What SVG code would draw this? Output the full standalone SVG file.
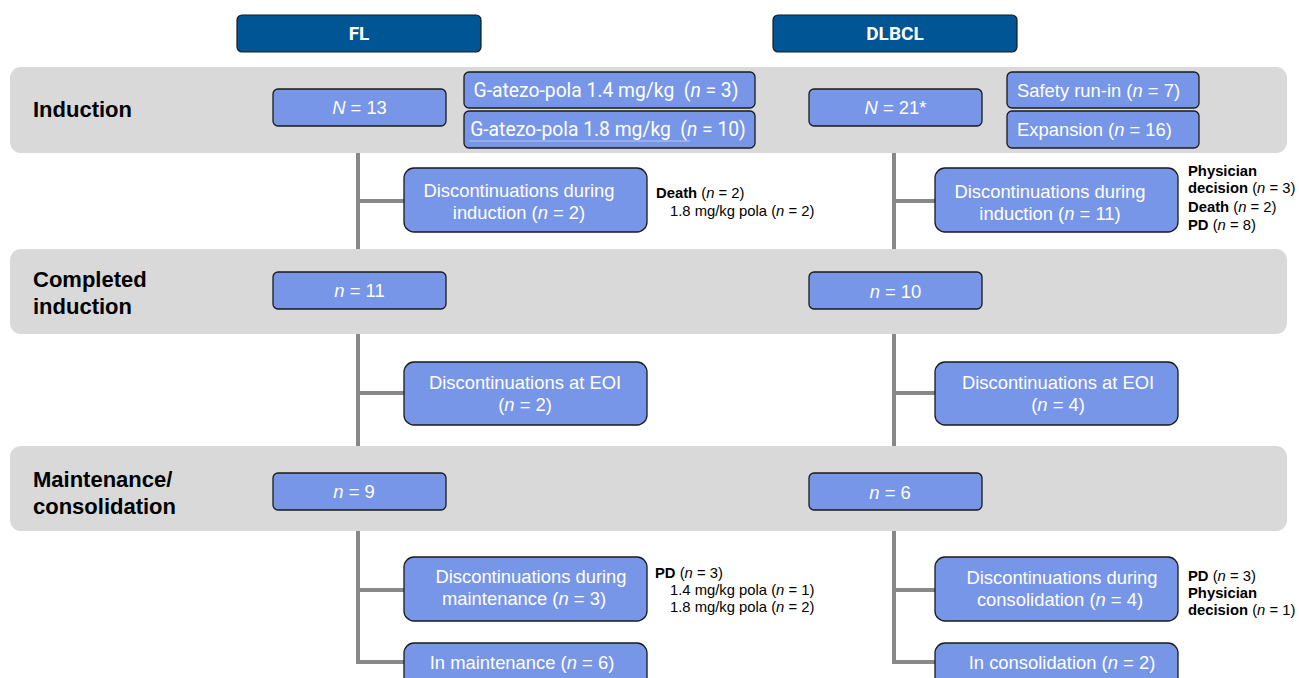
<svg xmlns="http://www.w3.org/2000/svg" width="1299" height="678" viewBox="0 0 1299 678">
<style>
.band{fill:#d9d9d9}
.hdr{fill:#005594;stroke:#1a1a1a;stroke-width:1.2}
.hdrt{font-family:Roboto,"Liberation Sans",Arial,sans-serif;font-weight:bold;font-size:19px;fill:#fff;text-anchor:middle}
.node{fill:#7896e8;stroke:#1a1a1a;stroke-width:1.3}
.nt{font-family:"Liberation Sans",Arial,sans-serif;font-size:18.4px;fill:#fff;text-anchor:middle}
.nl{font-family:"Liberation Sans",Arial,sans-serif;font-size:18.4px;fill:#fff}
.rt{font-family:Roboto,"Liberation Sans",sans-serif;font-size:19.3px;fill:#fff;text-anchor:middle}
.bl{font-family:"Liberation Sans",Arial,sans-serif;font-weight:bold;font-size:22px;fill:#000}
.st{font-family:"Liberation Sans",Arial,sans-serif;font-size:14.8px;fill:#000}
.b{font-weight:bold}
.i{font-style:italic}
.conn{stroke:#888;stroke-width:4;fill:none}
</style>
<rect width="1299" height="678" fill="#fff"/>
<g id="bands">
<rect class="band" x="10" y="67" width="1277" height="86" rx="11"/>
<rect class="band" x="10" y="249" width="1277" height="85" rx="11"/>
<rect class="band" x="10" y="446" width="1277" height="85" rx="11"/>
<text class="bl" x="33" y="117">Induction</text>
<text class="bl" x="33" y="287">Completed</text>
<text class="bl" x="33" y="314">induction</text>
<text class="bl" x="33" y="487">Maintenance/</text>
<text class="bl" x="33" y="514">consolidation</text>
</g>
<g id="connectors">
<path class="conn" d="M358 153V249M358 201H404"/>
<path class="conn" d="M358 334V446M358 393H404"/>
<path class="conn" d="M358 531V662H404M358 590H404"/>
<path class="conn" d="M894 153V249M894 201H935"/>
<path class="conn" d="M894 334V446M894 393H935"/>
<path class="conn" d="M894 531V662H935M894 590H935"/>
</g>
<g id="hdr-fl"><rect class="hdr" x="237" y="15" width="244" height="37" rx="5"/><text class="hdrt" x="359" y="40">FL</text></g>
<g id="hdr-dlbcl"><rect class="hdr" x="773" y="15" width="244" height="37" rx="5"/><text class="hdrt" x="895" y="40">DLBCL</text></g>
<g id="fl-n13"><rect class="node" x="273" y="89" width="173" height="37" rx="5"/><text class="nt" x="359.5" y="114"><tspan class="i">N</tspan> = 13</text></g>
<g id="fl-14"><rect class="node" x="464" y="72" width="291" height="36" rx="5"/><text class="rt" x="606" y="97" xml:space="preserve">G-atezo-pola 1.4 mg/kg  (<tspan class="i">n</tspan> = 3)</text></g>
<g id="fl-18"><rect class="node" x="464" y="111" width="291" height="37" rx="5"/><text class="rt" x="608" y="136" xml:space="preserve">G-atezo-pola 1.8 mg/kg  (<tspan class="i">n</tspan> = 10)</text><line x1="469" y1="141" x2="690" y2="141" stroke="#c8d3f5" stroke-width="0.8"/></g>
<g id="dl-n21"><rect class="node" x="809" y="89" width="173" height="37" rx="5"/><text class="nt" x="895.5" y="114"><tspan class="i">N</tspan> = 21*</text></g>
<g id="dl-safety"><rect class="node" x="1007" y="72" width="192" height="36" rx="5"/><text class="nl" x="1017" y="97">Safety run-in (<tspan class="i">n</tspan> = 7)</text></g>
<g id="dl-exp"><rect class="node" x="1007" y="111" width="192" height="37" rx="5"/><text class="nl" x="1017" y="136">Expansion (<tspan class="i">n</tspan> = 16)</text></g>
<g id="fl-disc-ind"><rect class="node" x="404" y="168" width="243" height="64" rx="10"/><text class="nt" x="519" y="197">Discontinuations during</text><text class="nt" x="519" y="219">induction (<tspan class="i">n</tspan> = 2)</text></g>
<g id="fl-disc-ind-note"><text class="st" x="656" y="198"><tspan class="b">Death</tspan> (<tspan class="i">n</tspan> = 2)</text><text class="st" x="670" y="216">1.8 mg/kg pola (<tspan class="i">n</tspan> = 2)</text></g>
<g id="dl-disc-ind"><rect class="node" x="935" y="168" width="243" height="64" rx="10"/><text class="nt" x="1050" y="198">Discontinuations during</text><text class="nt" x="1050" y="220">induction (<tspan class="i">n</tspan> = 11)</text></g>
<g id="dl-disc-ind-note"><text class="st b" x="1188" y="176">Physician</text><text class="st" x="1188" y="193"><tspan class="b">decision</tspan> (<tspan class="i">n</tspan> = 3)</text><text class="st" x="1188" y="212"><tspan class="b">Death</tspan> (<tspan class="i">n</tspan> = 2)</text><text class="st" x="1188" y="230"><tspan class="b">PD</tspan> (<tspan class="i">n</tspan> = 8)</text></g>
<g id="fl-n11"><rect class="node" x="273" y="272" width="173" height="37" rx="5"/><text class="nt" x="359.5" y="297"><tspan class="i">n</tspan> = 11</text></g>
<g id="dl-n10"><rect class="node" x="809" y="272" width="173" height="37" rx="5"/><text class="nt" x="895.5" y="298"><tspan class="i">n</tspan> = 10</text></g>
<g id="fl-eoi"><rect class="node" x="404" y="362" width="243" height="63" rx="10"/><text class="nt" x="525" y="389">Discontinuations at EOI</text><text class="nt" x="525" y="411">(<tspan class="i">n</tspan> = 2)</text></g>
<g id="dl-eoi"><rect class="node" x="935" y="362" width="243" height="63" rx="10"/><text class="nt" x="1058" y="389">Discontinuations at EOI</text><text class="nt" x="1058" y="411">(<tspan class="i">n</tspan> = 4)</text></g>
<g id="fl-n9"><rect class="node" x="273" y="473" width="173" height="37" rx="5"/><text class="nt" x="354" y="498"><tspan class="i">n</tspan> = 9</text></g>
<g id="dl-n6"><rect class="node" x="809" y="473" width="173" height="37" rx="5"/><text class="nt" x="890" y="499"><tspan class="i">n</tspan> = 6</text></g>
<g id="fl-disc-m"><rect class="node" x="404" y="557" width="243" height="64" rx="10"/><text class="nt" x="531" y="583">Discontinuations during</text><text class="nt" x="524" y="605">maintenance (<tspan class="i">n</tspan> = 3)</text></g>
<g id="fl-disc-m-note"><text class="st" x="655" y="578"><tspan class="b">PD</tspan> (<tspan class="i">n</tspan> = 3)</text><text class="st" x="670" y="595">1.4 mg/kg pola (<tspan class="i">n</tspan> = 1)</text><text class="st" x="670" y="612">1.8 mg/kg pola (<tspan class="i">n</tspan> = 2)</text></g>
<g id="dl-disc-c"><rect class="node" x="935" y="557" width="243" height="64" rx="10"/><text class="nt" x="1062" y="584">Discontinuations during</text><text class="nt" x="1060" y="606">consolidation (<tspan class="i">n</tspan> = 4)</text></g>
<g id="dl-disc-c-note"><text class="st" x="1188" y="581"><tspan class="b">PD</tspan> (<tspan class="i">n</tspan> = 3)</text><text class="st b" x="1188" y="598">Physician</text><text class="st" x="1188" y="615"><tspan class="b">decision</tspan> (<tspan class="i">n</tspan> = 1)</text></g>
<g id="fl-in-m"><rect class="node" x="404" y="643" width="243" height="50" rx="10"/><text class="nt" x="522" y="669">In maintenance (<tspan class="i">n</tspan> = 6)</text></g>
<g id="dl-in-c"><rect class="node" x="935" y="643" width="243" height="50" rx="10"/><text class="nt" x="1062" y="669">In consolidation (<tspan class="i">n</tspan> = 2)</text></g>
</svg>
